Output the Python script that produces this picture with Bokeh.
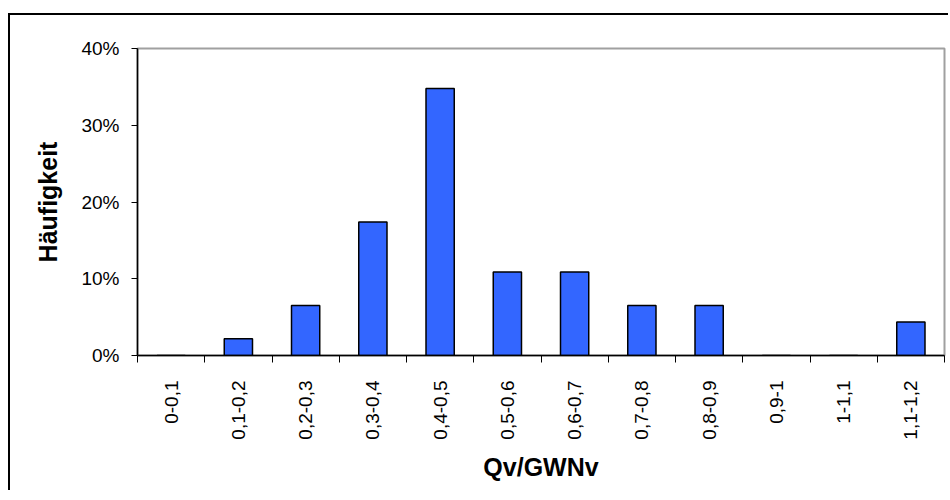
import math
from bokeh.plotting import figure
from bokeh.models import FixedTicker, NumeralTickFormatter, Range1d, ColumnDataSource
from bokeh.embed import file_html
from bokeh.resources import INLINE

categories = ["0-0,1", "0,1-0,2", "0,2-0,3", "0,3-0,4", "0,4-0,5", "0,5-0,6",
              "0,6-0,7", "0,7-0,8", "0,8-0,9", "0,9-1", "1-1,1", "1,1-1,2"]
frequency = [0.0, 0.0217, 0.0652, 0.1739, 0.3478, 0.1087,
             0.1087, 0.0652, 0.0652, 0.0, 0.0, 0.0435]
y_ticks = [0.0, 0.1, 0.2, 0.3, 0.4]
x_label = "Qv/GWNv"
y_label = "Häufigkeit"

n = len(categories)
centers = [i + 0.5 for i in range(n)]
source = ColumnDataSource(dict(x=centers, top=frequency, cat=categories))

FONT = "Liberation Sans"

p = figure(width=940, height=477, output_backend="svg", toolbar_location=None,
           x_range=Range1d(0, n), y_range=Range1d(0, 0.4),
           min_border_left=127, min_border_right=6, min_border_top=33,
           min_border_bottom=137)
p.styles = {"border-left": "2px solid black", "border-top": "2px solid black",
            "margin-top": "13px", "margin-left": "8px"}

p.vbar(x="x", top="top", width=0.42, source=source,
       fill_color="#3366FF", line_color="black", line_width=1.5)

p.grid.visible = False
p.outline_line_color = "#a0a0a0"
p.outline_line_width = 2
p.background_fill_color = "white"
p.border_fill_color = "white"

# x axis: labels at category centres, ticks at boundaries
xa = p.xaxis[0]
xa.ticker = FixedTicker(ticks=centers, minor_ticks=list(range(n + 1)))
xa.major_label_overrides = {c: lab for c, lab in zip(centers, categories)}
xa.major_tick_line_color = None
xa.major_tick_out = 0
xa.major_tick_in = 0
xa.minor_tick_line_color = "black"
xa.minor_tick_out = 7
xa.minor_tick_in = 0
xa.minor_tick_line_width = 1
xa.axis_line_color = "black"
xa.axis_line_width = 1.5
xa.major_label_orientation = math.pi / 2
xa.major_label_standoff = 18
xa.major_label_text_font = FONT
xa.major_label_text_font_size = "19px"
xa.major_label_text_color = "black"
xa.axis_label = x_label
xa.axis_label_text_font = FONT
xa.axis_label_text_font_size = "25px"
xa.axis_label_text_font_style = "bold"
xa.axis_label_text_color = "black"
xa.axis_label_standoff = 10

ya = p.yaxis[0]
ya.ticker = FixedTicker(ticks=y_ticks, minor_ticks=[])
ya.formatter = NumeralTickFormatter(format="0%")
ya.major_tick_line_color = "black"
ya.major_tick_out = 6
ya.major_tick_in = 0
ya.minor_tick_line_color = None
ya.axis_line_color = "black"
ya.axis_line_width = 1.5
ya.major_label_standoff = 12
ya.major_label_text_font = FONT
ya.major_label_text_font_size = "19px"
ya.major_label_text_color = "black"
ya.axis_label = y_label
ya.axis_label_text_font = FONT
ya.axis_label_text_font_size = "25px"
ya.axis_label_text_font_style = "bold"
ya.axis_label_text_color = "black"
ya.axis_label_standoff = 16

open("out.html", "w").write(file_html(p, INLINE))
